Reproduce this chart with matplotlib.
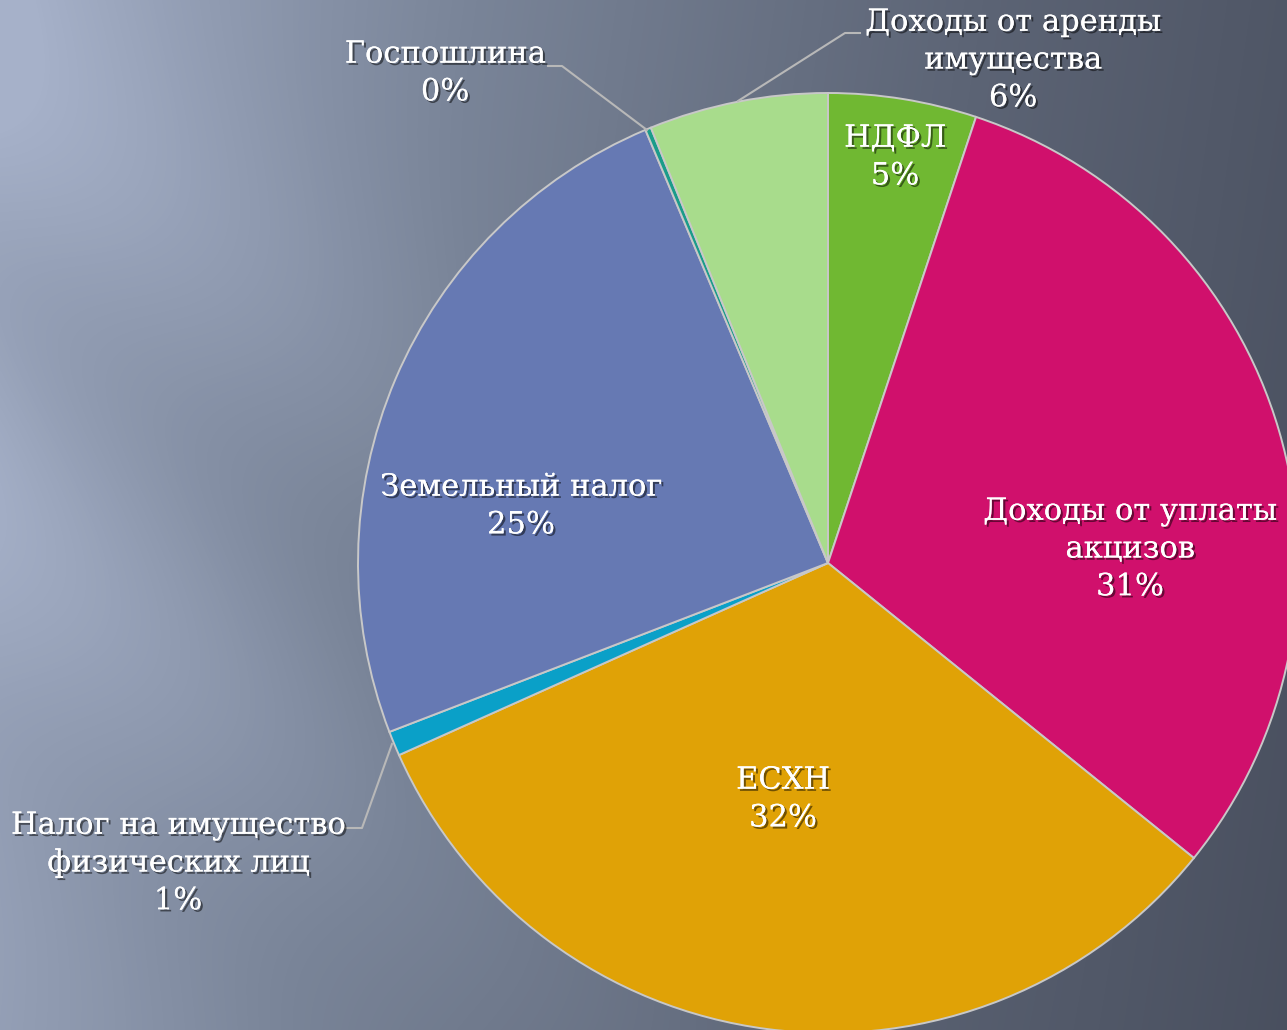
import numpy as np
import matplotlib
matplotlib.use("Agg")
import matplotlib.pyplot as plt
import matplotlib.patheffects as pe
from matplotlib.colors import LinearSegmentedColormap

# ---- data ----
categories = ["НДФЛ", "Доходы от уплаты\nакцизов", "ЕСХН",
              "Налог на имущество\nфизических лиц", "Земельный налог",
              "Госпошлина", "Доходы от аренды\nимущества"]
values = [5.1, 30.7, 32.5, 0.85, 24.5, 0.2, 6.15]
pct_labels = ["5%", "31%", "32%", "1%", "25%", "0%", "6%"]
colors = ["#70b832", "#d0106c", "#e0a206", "#0aa0c8", "#6679b3", "#1a9c8a", "#a8dc8c"]

W, H = 1287, 1030
fig = plt.figure(figsize=(W / 100, H / 100), dpi=100)

# ---- background ----
bg = fig.add_axes([0, 0, 1, 1])
yy, xx = np.mgrid[0:H, 0:W]
xn = xx / W
yn = yy / H
base = 0.74 - 0.42 * xn - 0.05 * yn
# soft diagonal streaks running down-right
d = (xx * 0.6 - yy * 0.8) / 100.0
fade = np.clip(1.0 - 1.1 * xn, 0, 1) ** 1.5
streak = (0.04 * np.exp(-((d + 0.5) ** 2) / 2.0)
          - 0.035 * np.exp(-((d + 2.3) ** 2) / 1.2)
          + 0.035 * np.exp(-((d + 4.2) ** 2) / 1.5)
          - 0.02 * np.exp(-((d + 6.0) ** 2) / 1.2)) * fade
val = np.clip(base + streak, 0, 1)
cmap = LinearSegmentedColormap.from_list("bgc", ["#474d5c", "#5c6475", "#7a8599", "#a6b1c9"])
bg.imshow(val, cmap=cmap, vmin=0.25, vmax=0.76, extent=[0, W, H, 0], aspect="auto",
          interpolation="bilinear")
bg.set_axis_off()

# ---- pie ----
ax = fig.add_axes([0, 0, 1, 1])
ax.patch.set_alpha(0)

cx, cy, R = 828, H - 563, 470
ax.pie(values, colors=colors, startangle=90, counterclock=False,
       center=(cx, cy), radius=R, frame=True,
       wedgeprops=dict(edgecolor="#c8c8c8", linewidth=1.4))
ax.set_xlim(0, W)
ax.set_ylim(0, H)
ax.set_aspect("equal")
ax.set_axis_off()

shadow = [pe.withSimplePatchShadow(offset=(1.6, -1.6), shadow_rgbFace="black", alpha=0.5),
          pe.Normal()]
fnt = dict(family=["DejaVu Serif"], fontsize=22, color="white",
           ha="center", va="center", linespacing=1.28)

label_pos = [(895, 157), (1130, 549), (783, 799), (178, 863), (521, 506), (445, 73), (1013, 60)]
for name, pct, (px, py) in zip(categories, pct_labels, label_pos):
    ax.text(px, H - py, name + "\n" + pct, path_effects=shadow, **fnt)

# leader lines
lc = dict(color="#b8b8b8", linewidth=1.5)
ax.plot([345, 362, 392], [H - 828, H - 828, H - 744], **lc)
ax.plot([548, 562, 647], [H - 66, H - 66, H - 130], **lc)
ax.plot([738, 845, 860], [H - 101, H - 33, H - 33], **lc)

fig.savefig("out.png", dpi=100)
